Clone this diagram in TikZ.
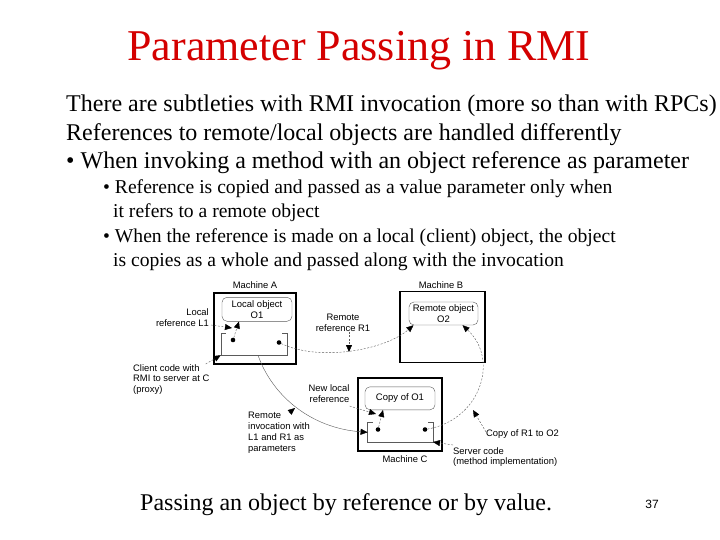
\documentclass[tikz,border=0pt]{standalone}
\usepackage{fontspec}
\setmainfont{Liberation Serif}
\newfontfamily\diagfont{Liberation Sans}
\usetikzlibrary{arrows.meta,positioning}
\definecolor{TitleRed}{HTML}{D40000}
\definecolor{LineGray}{HTML}{5A5A5A}

\begin{document}
\begin{tikzpicture}[x=1pt,y=-1pt,
  machine/.style={draw,line width=1.6pt,minimum height=71pt,inner sep=0pt},
  objbox/.style={draw=LineGray,rounded corners=5pt,minimum width=69pt,minimum height=23pt,inner sep=0pt,align=center,font=\diagfont\fontsize{9.5}{10.8}\selectfont},
  codebox/.style={inner sep=0pt},
  dot/.style={circle,fill=black,inner sep=0pt,minimum size=4.6pt},
  lbl/.style={inner sep=0pt,font=\diagfont\fontsize{9.4}{10.8}\selectfont},
  ref/.style={-{Triangle[length=7pt,width=6pt,color=black]},dash pattern=on 2pt off 1.5pt,thin,LineGray},
  lead/.style={-{Triangle[length=7pt,width=6pt,color=black]},dash pattern=on 2pt off 1.5pt,thin,LineGray},
  call/.style={-{Triangle[length=7pt,width=6pt,color=black]},thin,LineGray},
  body/.style={anchor=base west,inner sep=0pt,font=\fontsize{24}{28}\selectfont},
  sub/.style={anchor=base west,inner sep=0pt,font=\fontsize{19.6}{24}\selectfont}
]
\useasboundingbox (0,0) rectangle (720,540);

% slide text
\node[anchor=base,inner sep=0pt,font=\fontsize{44}{50}\selectfont,text=TitleRed] (title) at (359,61) {Parameter Passing in RMI};
\node[body] (line1) at (66,112) {There are subtleties with RMI invocation (more so than with RPCs)};
\node[body] (line2) at (66,140.5) {References to remote/local objects are handled differently};
\node[body] (line3) at (66,169) {\textbullet\ When invoking a method with an object reference as parameter};
\node[sub] (sub1) at (103,194) {\textbullet\ Reference is copied and passed as a value parameter only when};
\node[sub] (sub2) at (113,218) {it refers to a remote object};
\node[sub] (sub3) at (103,242) {\textbullet\ When the reference is made on a local (client) object, the object};
\node[sub] (sub4) at (113,266) {is copies as a whole and passed along with the invocation};

% machines
\node[machine,minimum width=82pt] (mA) at (255,328.5) {};
\node[machine,minimum width=85pt] (mB) at (442.5,327) {};
\node[machine,minimum width=84pt,minimum height=73pt] (mC) at (400,414.5) {};
\node[lbl] (labA) at (255,285) {Machine A};
\node[lbl] (labB) at (441,285) {Machine B};
\node[lbl] (labC) at (405,459) {Machine C};

\node[objbox,minimum width=70pt,minimum height=24pt] (objA) at (257,309.3) {Local object\\O1};
\node[objbox] (objB) at (443.5,313.5) {Remote object\\O2};
\node[objbox,minimum width=70pt] (objC) at (400,398.3) {Copy of O1};

% client and server code
\node[codebox,minimum width=66pt,minimum height=22pt] (codeA) at (254,344) {};
\node[codebox,minimum width=65pt,minimum height=19pt] (codeC) at (400.3,432.3) {};
\draw[LineGray] ([xshift=5pt]codeA.north west) -- (codeA.north west) |- (codeA.south east) -- (codeA.north east) -- ([xshift=-5pt]codeA.north east);
\draw[LineGray] ([xshift=5pt]codeC.north west) -- (codeC.north west) |- (codeC.south east) -- (codeC.north east) -- ([xshift=-5pt]codeC.north east);

\node[dot] (a1) at (233,340) {};
\node[dot] (a2) at (279,342.5) {};
\node[dot] (c1) at (378,429.5) {};
\node[dot] (c2) at (425,429.5) {};

% labels
\node[lbl,align=right,anchor=east] (lblL1) at (209,317.5) {Local\\reference L1};
\node[lbl,align=center] (lblR1) at (343,323) {Remote\\reference R1};
\node[lbl,align=left,anchor=north west] (lblClient) at (133,364) {Client code with\\RMI to server at C\\(proxy)};
\node[lbl,align=right] (lblNew) at (329,394) {New local\\reference};
\node[lbl,align=left,anchor=north west] (lblInv) at (248,412) {Remote\\invocation with\\L1 and R1 as\\parameters};
\node[lbl,anchor=west] (lblCopy) at (486,434.5) {Copy of R1 to O2};
\node[lbl,align=left,anchor=north west] (lblServer) at (453,447) {Server code\\(method implementation)};

\coordinate (l1tip) at (232,328);
\coordinate (r1tip) at (349,352);
\coordinate (invtip) at (295,408);
\coordinate (newtip) at (376,414);
\coordinate (copytip) at (473,410);

% references
\draw[ref] (a1) -- ([xshift=-18pt]objA.south);
\draw[ref] (a2) .. controls (320,362) and (385,350) .. ([xshift=-30pt]objB.south);
\draw[ref] (c1) -- ([xshift=-17pt]objC.south);
\draw[ref] (c2) .. controls (480,420) and (500,360) .. ([xshift=19pt]objB.south);
\draw[call] ([xshift=4pt]codeA.south) .. controls (272,395) and (310,428) .. (codeC.west);

% label leaders
\draw[lead] (lblL1.east |- l1tip) ++(2,-3) -- (l1tip);
\draw[lead] ([xshift=6pt]lblR1.south) -- (r1tip);
\draw[lead] ([xshift=-4pt]lblClient.north east) -- (codeA.south west);
\draw[lead] ([yshift=-3pt]lblNew.south east) -- (newtip);
\draw[lead] ([xshift=-6pt,yshift=-1pt]lblInv.north -| invtip) -- (invtip);
\draw[lead] ([yshift=-2pt]lblCopy.north west) -- (copytip);
\draw[lead] ([yshift=2pt]lblServer.north west) -- (codeC.south east);

% caption
\node[anchor=base west,inner sep=0pt,font=\fontsize{24}{28}\selectfont] (caption) at (140,510) {Passing an object by reference or by value.};
\node[anchor=base,inner sep=0pt,font=\diagfont\fontsize{12}{14}\selectfont] (pagenum) at (652,508) {37};
\end{tikzpicture}
\end{document}
